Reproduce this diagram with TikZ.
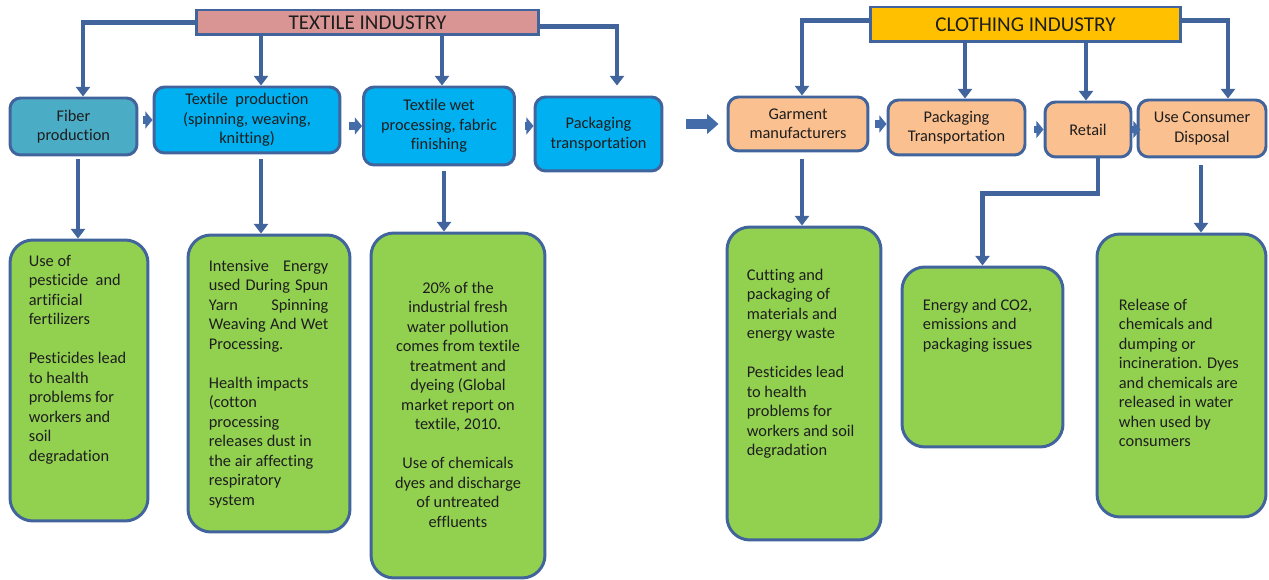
\documentclass[tikz,border=0pt]{standalone}
\usepackage{fontspec}
\setmainfont{Carlito}[Ligatures=NoCommon]
\usepackage{tikz}
\usetikzlibrary{arrows.meta,calc,positioning}
\definecolor{flowblue}{RGB}{64,100,155}
\definecolor{pushblue}{RGB}{68,108,168}
\definecolor{titlepink}{RGB}{217,149,148}
\definecolor{titlegold}{RGB}{255,192,0}
\definecolor{fibreteal}{RGB}{75,172,198}
\definecolor{stageblue}{RGB}{0,176,240}
\definecolor{stagesand}{RGB}{250,192,144}
\definecolor{impactgreen}{RGB}{146,208,80}
\definecolor{inkgrey}{RGB}{30,30,30}

\begin{document}
\begin{tikzpicture}[x=0.02cm,y=-0.02cm,
% common options for the two title bars:
titlebar/.style = {draw=flowblue, line width=1.7pt, inner sep=0, text=inkgrey,
            font=\fontsize{12}{14}\selectfont},
% common options for the stage boxes:
stage/.style = {draw=flowblue, line width=1.7pt, rounded corners=6pt, align=center,
            inner sep=0, text=inkgrey, font=\fontsize{9.3}{11.1}\selectfont},
% common options for the impact boxes:
impact/.style = {draw=flowblue, fill=impactgreen, line width=1.7pt, rounded corners=13pt},
impacttext/.style = {inner sep=0, align=left, text=inkgrey,
            font=\fontsize{9.3}{11.1}\selectfont},
% common options for the connectors:
flow/.style = {draw=flowblue, line width=2.8pt, -{Triangle[width=8pt,length=5.5pt]}},
push/.style = {draw=pushblue, line width=4.5pt, -{Triangle[width=9.5pt,length=4pt]}}]
\useasboundingbox (0,0) rectangle (1269,580);
% title bars
\node[titlebar, fill=titlepink, minimum width=6.84cm, minimum height=0.50cm] (textile) at (367.5,22.5) {TEXTILE INDUSTRY};
\node[titlebar, fill=titlegold, minimum width=6.22cm, minimum height=0.70cm] (clothing) at (1025.5,24.5) {CLOTHING INDUSTRY};
% textile stages
\node[stage, fill=fibreteal, minimum width=2.54cm, minimum height=1.14cm] (fiber) at (73.5,126.5) {Fiber\\production};
\node[stage, fill=stageblue, minimum width=3.72cm, minimum height=1.32cm] (tprod) at (247,120) {Textile\ \ production\\(spinning, weaving,\\knitting)};
\node[stage, fill=stageblue, minimum width=3.02cm, minimum height=1.56cm] (wet) at (439,126) {Textile wet\\processing, fabric\\finishing};
\node[stage, fill=stageblue, minimum width=2.54cm, minimum height=1.48cm] (pack) at (598.5,134) {Packaging\\transportation};
% clothing stages
\node[stage, fill=stagesand, minimum width=2.80cm, minimum height=1.08cm] (garment) at (798,124) {Garment\\manufacturers};
\node[stage, fill=stagesand, minimum width=2.74cm, minimum height=1.10cm] (packtwo) at (956.5,127.5) {Packaging\\Transportation};
\node[stage, fill=stagesand, minimum width=1.72cm, minimum height=1.10cm] (retail) at (1088,129.5) {Retail};
\node[stage, fill=stagesand, minimum width=2.56cm, minimum height=1.14cm] (use) at (1202,128.5) {Use Consumer\\Disposal};
% impact boxes
\node[impact, minimum width=2.76cm, minimum height=5.62cm] (g1) at (79,380.5) {};
\node[impact, minimum width=3.24cm, minimum height=5.94cm] (g2) at (269,383.5) {};
\node[impact, minimum width=3.48cm, minimum height=6.90cm] (g3) at (458,405.5) {};
\node[impact, minimum width=3.08cm, minimum height=6.26cm] (g4) at (804,383.5) {};
\node[impact, minimum width=3.22cm, minimum height=3.60cm] (g5) at (982.5,357) {};
\node[impact, minimum width=3.38cm, minimum height=5.66cm] (g6) at (1181.5,375.5) {};
% impact texts
\node[impacttext, below right=0.32cm and 0.4cm of g1.north west] (t1) {Use of\\pesticide\ \ and\\artificial\\fertilizers\\[11.1pt]Pesticides lead\\to health\\problems for\\workers and\\soil\\degradation};
\node[impacttext, below right=0.52cm and 0.44cm of g2.north west] (t2) {\makebox[68pt][s]{Intensive Energy}\\\makebox[68pt][s]{used During Spun}\\\makebox[68pt][s]{Yarn Spinning}\\\makebox[68pt][s]{Weaving And Wet}\\Processing.\\[11.1pt]Health impacts\\(cotton\\processing\\releases dust in\\the air affecting\\respiratory\\system};
\node[impacttext, align=center, below=1.0cm of g3.north] (t3) {20\% of the\\industrial fresh\\water pollution\\comes from textile\\treatment and\\dyeing (Global\\market report on\\textile, 2010.\\[11.1pt]Use of chemicals\\dyes and discharge\\of untreated\\effluents};
\node[impacttext, below right=0.86cm and 0.42cm of g4.north west] (t4) {Cutting and\\packaging of\\materials and\\energy waste\\[11.1pt]Pesticides lead\\to health\\problems for\\workers and soil\\degradation};
\node[impacttext, below right=0.66cm and 0.44cm of g5.north west] (t5) {Energy and CO2,\\emissions and\\packaging issues};
\node[impacttext, below right=1.32cm and 0.46cm of g6.north west] (t6) {Release of\\chemicals and\\dumping or\\incineration. Dyes\\and chemicals are\\released in water\\when used by\\consumers};
% helper points for the connectors
\coordinate (fibertop) at ($(fiber.north)+(9.5,0)$);
\coordinate (tprodtop) at ($(tprod.north)+(14,0)$);
\coordinate (wettop) at ($(wet.north)+(3,0)$);
\coordinate (packtop) at ($(pack.north)+(18.5,-10)$);
\coordinate (garmenttop) at ($(garment.north)+(4,0)$);
\coordinate (packtwotop) at ($(packtwo.north)+(8.5,0)$);
\coordinate (retailtop) at ($(retail.north)+(-2,0)$);
\coordinate (usetop) at ($(use.north)+(26,0)$);
\coordinate (fiberlow) at ($(fiber.south)+(4.5,3)$);
\coordinate (tprodlow) at ($(tprod.south)+(14,5)$);
\coordinate (wetlow) at ($(wet.south)+(5,5)$);
\coordinate (garmentlow) at ($(garment.south)+(4,7)$);
\coordinate (retaillow) at ($(retail.south)+(10,0)$);
\coordinate (retailbend) at ($(retail.south)+(10,35)$);
\coordinate (uselow) at ($(use.south)+(-1,7)$);
% from the title bars
\draw[flow] (textile.west) -| (fibertop);
\draw[flow] (textile.south -| tprodtop) -- (tprodtop);
\draw[flow] (textile.south -| wettop) -- (wettop);
\draw[flow] ([yshift=-0.08cm]textile.east) -| (packtop);
\draw[flow] ([yshift=0.08cm]clothing.west) -| (garmenttop);
\draw[flow] (clothing.south -| packtwotop) -- (packtwotop);
\draw[flow] (clothing.south -| retailtop) -- (retailtop);
\draw[flow] ([yshift=0.08cm]clothing.east) -| (usetop);
% along the chain
\draw[push, shorten <=0.1cm] (fiber.east |- tprod.west) -- (tprod.west);
\draw[push, shorten <=0.16cm] (tprod.east |- wet.west) -- (wet.west);
\draw[push, shorten <=0.18cm] (wet.east) -- (wet.east -| pack.west);
\draw[draw=pushblue, line width=5.7pt, -{Triangle[width=11pt,length=6.5pt]}, shorten <=0.46cm, shorten >=0.16cm] (pack.east |- garment.west) -- (garment.west);
\draw[push, shorten <=0.12cm] (garment.east) -- (garment.east -| packtwo.west);
\draw[push, shorten <=0.16cm] (packtwo.east |- retail.west) -- (retail.west);
\draw[push, shorten >=-0.08cm] (retail.east) -- (retail.east -| use.west);
% down to the impacts
\draw[flow] (fiberlow) -- (fiberlow |- g1.north);
\draw[flow] (tprodlow) -- (tprodlow |- g2.north);
\draw[flow] (wetlow) -- (wetlow |- g3.north);
\draw[flow] (garmentlow) -- (garmentlow |- g4.north);
\draw[flow] (retaillow) -- (retailbend) -| (g5.north);
\draw[flow] (uselow) -- (uselow |- g6.north);
\end{tikzpicture}
\end{document}
